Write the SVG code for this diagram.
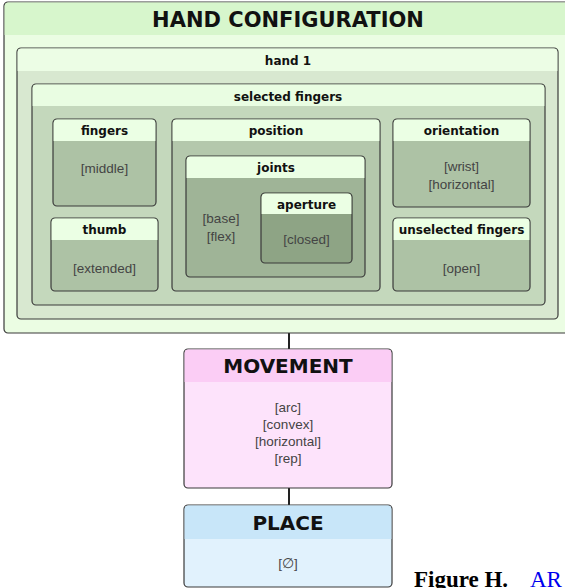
<svg xmlns="http://www.w3.org/2000/svg" width="565" height="588" viewBox="0 0 565 588">
<style>
.t{font-family:"DejaVu Sans","Open Sans",sans-serif;font-weight:bold;fill:#111;text-anchor:middle}
.v{font-family:"Liberation Sans",Arial,sans-serif;font-size:13.5px;fill:#444;text-anchor:middle}
.b{stroke:#3a3a3a;stroke-width:1.2}
</style>
<rect width="565" height="588" fill="#fff"/>
<g id="connectors" stroke="#222" stroke-width="2">
<line x1="289" y1="333" x2="289" y2="349"/>
<line x1="289" y1="488" x2="289" y2="505"/>
</g>
<g id="hand-configuration">
<rect x="4" y="2" width="570" height="331" rx="4" fill="#ebfde3" class="b"/>
<path d="M4.6 6a4 4 0 0 1 4-3.4H574V35H4.6Z" fill="#d7f6cc"/>
<text class="t" x="288" y="27" font-size="21">HAND CONFIGURATION</text>
</g>
<g id="hand1">
<rect x="17" y="48" width="541" height="271" rx="4" fill="#d8e8d0" class="b"/>
<path d="M17.6 52a4 4 0 0 1 4-3.4H553.4a4 4 0 0 1 4 3.4V71H17.6Z" fill="#ecfde5"/>
<text class="t" x="288" y="65" font-size="12">hand 1</text>
</g>
<g id="selected-fingers">
<rect x="32" y="84" width="513" height="221" rx="4" fill="#c4d8bc" class="b"/>
<path d="M32.6 88a4 4 0 0 1 4-3.4H540.4a4 4 0 0 1 4 3.4V106H32.6Z" fill="#e9fde2"/>
<text class="t" x="288" y="101" font-size="12">selected fingers</text>
</g>
<g id="fingers">
<rect x="53" y="119" width="103" height="87" rx="4" fill="#adc2a5" class="b"/>
<path d="M53.6 123a4 4 0 0 1 4-3.4H151.4a4 4 0 0 1 4 3.4V141H53.6Z" fill="#ebffe4"/>
<text class="t" x="104.5" y="135" font-size="12">fingers</text>
<text class="v" x="104.5" y="173">[middle]</text>
</g>
<g id="thumb">
<rect x="51" y="218" width="107" height="73" rx="4" fill="#adc2a5" class="b"/>
<path d="M51.6 222a4 4 0 0 1 4-3.4H153.4a4 4 0 0 1 4 3.4V240H51.6Z" fill="#ebffe4"/>
<text class="t" x="104.5" y="234" font-size="12">thumb</text>
<text class="v" x="104.5" y="273">[extended]</text>
</g>
<g id="position">
<rect x="172" y="119" width="208" height="172" rx="4" fill="#b4c8ac" class="b"/>
<path d="M172.6 123a4 4 0 0 1 4-3.4H375.4a4 4 0 0 1 4 3.4V141H172.6Z" fill="#ebffe4"/>
<text class="t" x="276" y="135" font-size="12">position</text>
</g>
<g id="joints">
<rect x="186" y="156" width="179" height="121" rx="4" fill="#9fb497" class="b"/>
<path d="M186.6 160a4 4 0 0 1 4-3.4H360.4a4 4 0 0 1 4 3.4V178H186.6Z" fill="#ebffe4"/>
<text class="t" x="276" y="172" font-size="12">joints</text>
<text class="v" x="221" y="223">[base]</text>
<text class="v" x="221" y="241">[flex]</text>
</g>
<g id="aperture">
<rect x="261" y="193" width="91" height="70" rx="4" fill="#8ea485" class="b"/>
<path d="M261.6 197a4 4 0 0 1 4-3.4H347.4a4 4 0 0 1 4 3.4V214H261.6Z" fill="#ebffe4"/>
<text class="t" x="306.5" y="209" font-size="12">aperture</text>
<text class="v" x="306.5" y="244">[closed]</text>
</g>
<g id="orientation">
<rect x="393" y="119" width="137" height="88" rx="4" fill="#adc2a5" class="b"/>
<path d="M393.6 123a4 4 0 0 1 4-3.4H525.4a4 4 0 0 1 4 3.4V141H393.6Z" fill="#ebffe4"/>
<text class="t" x="461.5" y="135" font-size="12">orientation</text>
<text class="v" x="461.5" y="171">[wrist]</text>
<text class="v" x="461.5" y="189">[horizontal]</text>
</g>
<g id="unselected-fingers">
<rect x="393" y="218" width="137" height="73" rx="4" fill="#adc2a5" class="b"/>
<path d="M393.6 222a4 4 0 0 1 4-3.4H525.4a4 4 0 0 1 4 3.4V240H393.6Z" fill="#ebffe4"/>
<text class="t" x="461.5" y="234" font-size="12">unselected fingers</text>
<text class="v" x="461.5" y="273">[open]</text>
</g>
<g id="movement">
<rect x="184" y="349" width="208" height="139" rx="4" fill="#fde3fb" class="b"/>
<path d="M184.6 353a4 4 0 0 1 4-3.4H387.4a4 4 0 0 1 4 3.4V382H184.6Z" fill="#fbcdf5"/>
<text class="t" x="288" y="373" font-size="20">MOVEMENT</text>
<text class="v" x="288" y="412">[arc]</text>
<text class="v" x="288" y="429">[convex]</text>
<text class="v" x="288" y="446">[horizontal]</text>
<text class="v" x="288" y="463">[rep]</text>
</g>
<g id="place">
<rect x="184" y="505" width="208" height="82" rx="4" fill="#e1f2fd" class="b"/>
<path d="M184.6 509a4 4 0 0 1 4-3.4H387.4a4 4 0 0 1 4 3.4V539H184.6Z" fill="#c8e6f9"/>
<text class="t" x="288" y="530" font-size="20">PLACE</text>
<text class="v" x="288" y="568">[∅]</text>
</g>
<g id="caption" font-family="'Liberation Serif','Times New Roman',serif" font-size="23">
<text x="414" y="587" fill="#000" font-weight="bold">Figure H.</text>
<text x="530" y="587" fill="#0000ee">AR</text>
</g>
</svg>
